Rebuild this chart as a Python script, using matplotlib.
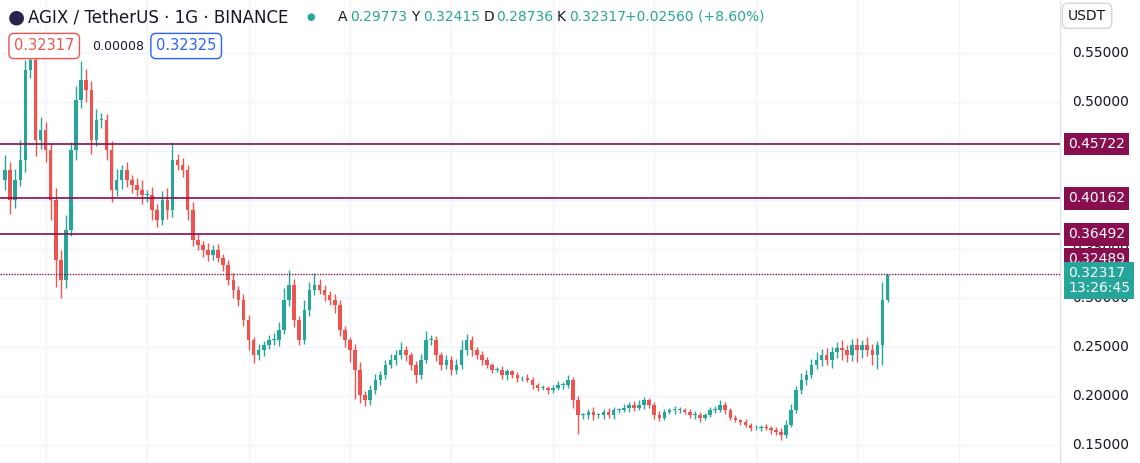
import matplotlib.pyplot as plt
from matplotlib.patches import Rectangle

closes = [0.431, 0.400, 0.420, 0.441, 0.533, 0.543, 0.461, 0.471, 0.451, 0.400,
          0.339, 0.318, 0.369, 0.451, 0.502, 0.522, 0.512, 0.461, 0.482, 0.482,
          0.451, 0.410, 0.420, 0.431, 0.420, 0.415, 0.410, 0.405, 0.405, 0.390,
          0.380, 0.400, 0.390, 0.441, 0.436, 0.431, 0.390, 0.359, 0.354, 0.349,
          0.344, 0.349, 0.341, 0.334, 0.318, 0.308, 0.298, 0.278, 0.257, 0.242,
          0.247, 0.252, 0.257, 0.257, 0.267, 0.298, 0.313, 0.278, 0.257, 0.288,
          0.308, 0.313, 0.308, 0.303, 0.298, 0.293, 0.267, 0.257, 0.247, 0.227,
          0.201, 0.196, 0.206, 0.216, 0.221, 0.232, 0.237, 0.242, 0.247, 0.242,
          0.232, 0.221, 0.237, 0.257, 0.257, 0.242, 0.232, 0.237, 0.227, 0.232,
          0.247, 0.257, 0.247, 0.242, 0.237, 0.232, 0.227, 0.227, 0.221, 0.225,
          0.221, 0.218, 0.218, 0.216, 0.211, 0.208, 0.208, 0.206, 0.208, 0.211,
          0.211, 0.216, 0.196, 0.181, 0.181, 0.184, 0.181, 0.181, 0.184, 0.181,
          0.186, 0.186, 0.188, 0.191, 0.188, 0.191, 0.196, 0.191, 0.181, 0.178,
          0.184, 0.186, 0.186, 0.186, 0.184, 0.181, 0.181, 0.178, 0.181, 0.186,
          0.186, 0.191, 0.186, 0.178, 0.175, 0.173, 0.170, 0.167, 0.167, 0.168,
          0.167, 0.165, 0.163, 0.160, 0.170, 0.186, 0.206, 0.216, 0.221, 0.232,
          0.237, 0.242, 0.237, 0.245, 0.249, 0.247, 0.242, 0.252, 0.247, 0.252,
          0.247, 0.242, 0.252, 0.298, 0.323]
first_open = 0.420
# wick sizes in thousandths
up_wick = [15, 8, 12, 20, 10, 18, 6, 14, 9, 7, 12, 10, 16, 8, 14, 20, 12, 9, 11, 7,
           6, 9, 12, 5, 8, 6, 7, 10, 5, 8, 6, 9, 12, 18, 6, 7, 5, 8, 6, 4,
           7, 5, 6, 4, 5, 7, 4, 6, 5, 3, 6, 4, 5, 7, 8, 12, 16, 6, 4, 10,
           8, 12, 6, 5, 4, 6, 5, 4, 3, 6, 8, 4, 5, 6, 4, 5, 6, 5, 8, 4,
           3, 4, 6, 9, 5, 4, 3, 5, 4, 6, 10, 6, 4, 3, 4, 3, 2, 3, 4, 3,
           2, 3, 2, 4, 3, 2, 3, 2, 3, 4, 3, 5, 3, 4, 2, 3, 5, 2, 3, 4,
           3, 2, 4, 3, 4, 5, 3, 2, 3, 4, 3, 2, 4, 3, 2, 3, 4, 3, 2, 3,
           4, 5, 3, 2, 3, 2, 3, 2, 3, 2, 3, 2, 3, 4, 5, 6, 4, 7, 5, 6,
           8, 6, 7, 5, 6, 8, 5, 6, 7, 5, 8, 6, 4, 18, 1]
dn_wick = [10, 14, 8, 6, 12, 8, 16, 9, 12, 20, 28, 18, 8, 6, 10, 8, 12, 14, 6, 9,
           10, 12, 6, 9, 7, 8, 6, 9, 7, 10, 8, 6, 9, 7, 5, 8, 10, 6, 5, 7,
           6, 5, 4, 6, 5, 8, 6, 7, 10, 8, 5, 6, 4, 5, 6, 4, 6, 8, 5, 4,
           6, 5, 4, 6, 5, 8, 6, 7, 12, 30, 8, 6, 5, 4, 5, 4, 3, 5, 4, 6,
           5, 8, 4, 3, 5, 6, 5, 4, 6, 5, 4, 5, 6, 4, 5, 3, 4, 3, 4, 5,
           3, 4, 3, 2, 4, 3, 2, 4, 3, 2, 4, 3, 8, 20, 5, 4, 6, 3, 4, 3,
           4, 3, 2, 4, 3, 2, 4, 3, 5, 4, 3, 2, 4, 3, 2, 3, 4, 5, 3, 2,
           3, 2, 4, 3, 2, 3, 2, 3, 2, 3, 2, 4, 3, 5, 3, 2, 3, 4, 5, 3,
           4, 6, 5, 8, 6, 10, 7, 6, 12, 8, 6, 10, 14, 20, 2]

levels = [0.45722, 0.40162, 0.36492, 0.32489]
level_labels = ["0.45722", "0.40162", "0.36492", "0.32489"]
level_label_pos = [0.45722, 0.40162, 0.36492, 0.3400]
yticks = [0.15, 0.20, 0.25, 0.30, 0.35, 0.40, 0.45, 0.50, 0.55]
ytick_labels = ["0.15000", "0.20000", "0.25000", "0.30000", "0.35000",
                "0.40000", "0.45000", "0.50000", "0.55000"]

UP, DN = "#26a69a", "#ef5350"
MAROON = "#880e4f"

fig = plt.figure(figsize=(11.4, 4.63), dpi=100)
ax = fig.add_axes([0, 0, 1060 / 1140, 1])
ymin, ymax = 0.1316, 0.6041
ax.set_ylim(ymin, ymax)
ax.set_xlim(-1, 208)

for g in yticks:
    ax.axhline(g, color="#f0f3fa", lw=1, zorder=0)
for gx in range(8, 211, 20):
    ax.axvline(gx, color="#f0f3fa", lw=1, zorder=0)

opens = [first_open] + closes[:-1]
for i, (o, c) in enumerate(zip(opens, closes)):
    col = UP if c >= o else DN
    hi = max(o, c) + up_wick[i] / 1000
    lo = min(o, c) - dn_wick[i] / 1000
    ax.vlines(i, lo, hi, color=col, lw=1, zorder=2)
    body = max(abs(c - o), 0.0008)
    ax.add_patch(Rectangle((i - 0.35, min(o, c)), 0.7, body, color=col, lw=0, zorder=3))

for lv in levels[:3]:
    ax.axhline(lv, color=MAROON, lw=1.2, zorder=4)
ax.axhline(levels[3], color=MAROON, lw=1, ls=(0, (1, 1)), zorder=4)
ax.axis("off")

# right price scale
sc = fig.add_axes([1060 / 1140, 0, 80 / 1140, 1])
sc.set_ylim(ymin, ymax)
sc.set_xlim(0, 1)
sc.axis("off")
sc.axvline(0, color="#e0e3eb", lw=1)
for t, lab in zip(yticks, ytick_labels):
    sc.text(0.15, t, lab, va="center", ha="left", fontsize=10, color="#131722", zorder=1)
for lv, lab in zip(level_label_pos, level_labels):
    sc.text(0.1, lv, lab, va="center", ha="left", fontsize=10, color="white", zorder=5,
            bbox=dict(boxstyle="square,pad=0.3", fc=MAROON, ec="none"))
sc.text(0.1, 0.3180, "0.32317\n13:26:45", va="center", ha="left", fontsize=10,
        color="white", linespacing=1.1, zorder=6,
        bbox=dict(boxstyle="square,pad=0.3", fc=UP, ec="none"))
sc.text(0.1, 0.588, "USDT", va="center", ha="left", fontsize=10, color="#131722",
        bbox=dict(boxstyle="round,pad=0.4", fc="white", ec="#d1d4dc"))

# header
hy = 1 - 17 / 463
fig.text(8 / 1140, hy, "\u25CF", fontsize=14, color="#2b2250", va="center")
fig.text(28 / 1140, hy, "AGIX / TetherUS · 1G · BINANCE", fontsize=12,
         color="#131722", va="center")
fig.text(306 / 1140, hy, "\u25CF", fontsize=7, color=UP, va="center")
x0 = 338
for k, v in [("A", "0.29773"), ("Y", "0.32415"), ("D", "0.28736"), ("K", "0.32317")]:
    fig.text(x0 / 1140, hy, k, fontsize=10, color="#131722", va="center")
    fig.text((x0 + 12) / 1140, hy, v, fontsize=10, color=UP, va="center")
    x0 += 73
fig.text((x0 - 5) / 1140, hy, "+0.02560 (+8.60%)", fontsize=10, color=UP, va="center")
fig.text(14 / 1140, 1 - 46 / 463, "0.32317", fontsize=10.5, color=DN, va="center",
         bbox=dict(boxstyle="round,pad=0.35", fc="white", ec=DN))
fig.text(92 / 1140, 1 - 46 / 463, "0.00008", fontsize=9, color="#131722", va="center")
fig.text(156 / 1140, 1 - 46 / 463, "0.32325", fontsize=10.5, color="#2962ff", va="center",
         bbox=dict(boxstyle="round,pad=0.35", fc="white", ec="#2962ff"))

fig.savefig("out.png", dpi=100)
